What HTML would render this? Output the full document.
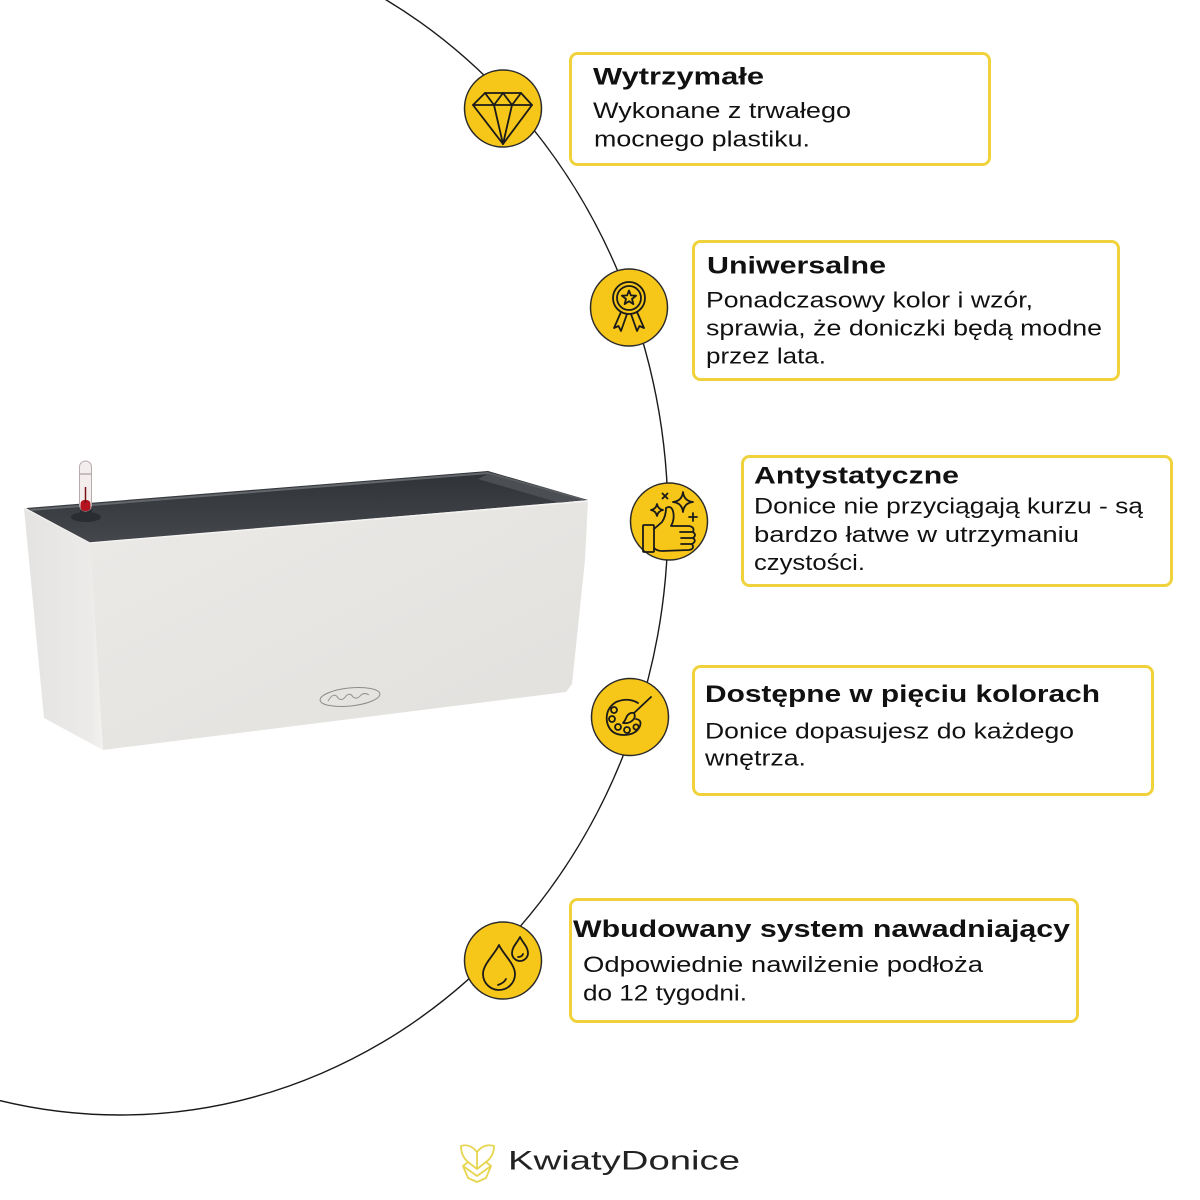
<!DOCTYPE html>
<html>
<head>
<meta charset="utf-8">
<style>
  html,body{margin:0;padding:0;background:#ffffff;}
  svg{display:block;}
  .t{font-family:"Liberation Sans","DejaVu Sans",sans-serif;font-weight:700;font-size:24px;fill:#111;}
  .b{font-family:"Liberation Sans","DejaVu Sans",sans-serif;font-weight:400;font-size:22px;fill:#111;}
  .ic{fill:none;stroke:#1a1a1a;stroke-width:1.8;stroke-linejoin:round;stroke-linecap:round;}
  .circ{fill:#f6c619;stroke:#2a2a2a;stroke-width:1.5;}
  .box{fill:#ffffff;stroke:#efd23c;stroke-width:3;}
</style>
</head>
<body>
<svg width="1200" height="1200" viewBox="0 0 1200 1200" xmlns="http://www.w3.org/2000/svg">
  <defs>
    <linearGradient id="front" x1="0" y1="0" x2="1" y2="1">
      <stop offset="0" stop-color="#eceae7"/>
      <stop offset="1" stop-color="#e2e0dd"/>
    </linearGradient>
    <linearGradient id="side" x1="0" y1="0" x2="1" y2="0">
      <stop offset="0" stop-color="#e4e3e1"/>
      <stop offset="0.85" stop-color="#ecebe9"/>
      <stop offset="1" stop-color="#f3f2f0"/>
    </linearGradient>
    <linearGradient id="inner" x1="0" y1="0" x2="0" y2="1">
      <stop offset="0" stop-color="#2f3236"/>
      <stop offset="1" stop-color="#44474c"/>
    </linearGradient>
  </defs>

  <!-- big arc (ellipse, only right part visible) -->
  <ellipse cx="120" cy="520" rx="548" ry="595" fill="none" stroke="#1a1a1a" stroke-width="1.4"/>

  <!-- pot -->
  <g>
    <polygon points="24,508 90,543 103,750 44,718" fill="url(#side)"/>
    <polygon points="90,543 588,500 585,560 572,684 566,692 103,750" fill="url(#front)"/>
    <polygon points="26,508 488,471 588,500 90,543" fill="url(#inner)"/>
    <line x1="30" y1="510" x2="488" y2="473" stroke="#63666b" stroke-width="2"/>
    <line x1="488" y1="473" x2="584" y2="500" stroke="#5a5d62" stroke-width="2"/>
    <polygon points="488,474 582,500 560,503 478,479" fill="#4b4e53"/>
    <line x1="90" y1="543" x2="588" y2="501" stroke="#f4f3f1" stroke-width="1.5"/>
    <line x1="24" y1="508" x2="90" y2="543" stroke="#f2f1ef" stroke-width="1.2"/>
    <!-- water indicator -->
    <ellipse cx="86" cy="517" rx="15" ry="5" fill="#2a2d31"/>
    <rect x="80" y="510" width="12" height="8" fill="#2a2d31"/>
    <rect x="79.5" y="461" width="12" height="50" rx="6" fill="#f3eded" stroke="#b6aaac" stroke-width="1"/>
    <rect x="80.5" y="500" width="10" height="11" rx="4" fill="#b3141f"/>
    <line x1="85.5" y1="487" x2="85.5" y2="503" stroke="#7a0f15" stroke-width="1.5"/>
    <line x1="80" y1="474" x2="91" y2="474" stroke="#9a8e90" stroke-width="1"/>
    <!-- brand ellipse -->
    <ellipse cx="350" cy="697" rx="30" ry="9" transform="rotate(-6 350 697)" fill="none" stroke="#8d8c8a" stroke-width="1"/>
    <path d="M328,701 q6,-10 10,-3 q4,4 8,-2 q4,-4 7,1 q4,3 8,-2 q4,-3 8,0" fill="none" stroke="#8d8c8a" stroke-width="0.9"/>
  </g>

  <!-- boxes -->
  <rect class="box" x="570.5" y="53.5" width="419" height="111" rx="7"/>
  <rect class="box" x="693.5" y="241.5" width="425" height="138" rx="7"/>
  <rect class="box" x="742.5" y="456.5" width="429" height="129" rx="7"/>
  <rect class="box" x="693.5" y="666.5" width="459" height="128" rx="7"/>
  <rect class="box" x="570.5" y="899.5" width="507" height="122" rx="7"/>

  <!-- text -->
  <text class="t" x="593" y="84.5" textLength="171" lengthAdjust="spacingAndGlyphs">Wytrzymałe</text>
  <text class="b" x="593" y="118" textLength="258" lengthAdjust="spacingAndGlyphs">Wykonane z trwałego</text>
  <text class="b" x="594" y="146.5" textLength="216" lengthAdjust="spacingAndGlyphs">mocnego plastiku.</text>

  <text class="t" x="707" y="273.5" textLength="179" lengthAdjust="spacingAndGlyphs">Uniwersalne</text>
  <text class="b" x="706" y="307.5" textLength="327" lengthAdjust="spacingAndGlyphs">Ponadczasowy kolor i wzór,</text>
  <text class="b" x="706" y="335.5" textLength="396" lengthAdjust="spacingAndGlyphs">sprawia, że doniczki będą modne</text>
  <text class="b" x="706" y="363.5" textLength="120" lengthAdjust="spacingAndGlyphs">przez lata.</text>

  <text class="t" x="754" y="483.5" textLength="205" lengthAdjust="spacingAndGlyphs">Antystatyczne</text>
  <text class="b" x="754" y="513.5" textLength="389" lengthAdjust="spacingAndGlyphs">Donice nie przyciągają kurzu - są</text>
  <text class="b" x="754" y="542" textLength="325" lengthAdjust="spacingAndGlyphs">bardzo łatwe w utrzymaniu</text>
  <text class="b" x="754" y="570" textLength="111" lengthAdjust="spacingAndGlyphs">czystości.</text>

  <text class="t" x="705" y="702" textLength="395" lengthAdjust="spacingAndGlyphs">Dostępne w pięciu kolorach</text>
  <text class="b" x="705" y="738.5" textLength="369" lengthAdjust="spacingAndGlyphs">Donice dopasujesz do każdego</text>
  <text class="b" x="705" y="765.5" textLength="101" lengthAdjust="spacingAndGlyphs">wnętrza.</text>

  <text class="t" x="573" y="937" textLength="497" lengthAdjust="spacingAndGlyphs">Wbudowany system nawadniający</text>
  <text class="b" x="583" y="972" textLength="400" lengthAdjust="spacingAndGlyphs">Odpowiednie nawilżenie podłoża</text>
  <text class="b" x="583" y="1000.5" textLength="164" lengthAdjust="spacingAndGlyphs">do 12 tygodni.</text>

  <!-- icon 1: diamond -->
  <circle class="circ" cx="503" cy="108.5" r="38.5"/>
  <g class="ic" stroke-width="2">
    <polygon points="485,93 521,93 532,105 503,144 473,105"/>
    <line x1="473" y1="105" x2="532" y2="105"/>
    <polyline points="485,93 494,105 503,93 512,105 521,93"/>
    <line x1="494" y1="105" x2="503" y2="144"/>
    <line x1="512" y1="105" x2="503" y2="144"/>
  </g>

  <!-- icon 2: medal -->
  <circle class="circ" cx="629" cy="307.5" r="38.5"/>
  <g class="ic" stroke-width="1.6">
    <circle cx="629" cy="298" r="16"/>
    <circle cx="629" cy="298" r="12"/>
    <polygon points="629,290.5 630.9,295.4 636.1,295.7 632,299 633.4,304.1 629,301.2 624.6,304.1 626,299 621.9,295.7 627.1,295.4"/>
    <polyline points="621,312 614,328 618.5,326 621,331 627,314"/>
    <polyline points="637,312 644,328 639.5,326 637,331 631,314"/>
  </g>

  <!-- icon 3: thumbs up -->
  <circle class="circ" cx="669" cy="521.5" r="38.5"/>
  <g class="ic" stroke-width="1.8">
    <rect x="643" y="525" width="11" height="27" rx="1"/>
    <path d="M654,529 L662,522 Q666,516 666,508 Q671,505 673,511 Q675,519 671,526 L689,526 Q695,527 693,532 Q697,535 693,538 Q697,541 692,544 Q695,549 689,550 L662,551 Q657,551 654,548"/>
    <line x1="680" y1="532" x2="693" y2="532"/>
    <line x1="681" y1="538" x2="693" y2="538"/>
    <line x1="681" y1="544" x2="692" y2="544"/>
    <path d="M683,492 Q684,501 693,502 Q684,503 683,512 Q682,503 673,502 Q682,501 683,492Z"/>
    <path d="M657,504 Q658,509 663,510 Q658,511 657,516 Q656,511 651,510 Q656,509 657,504Z"/>
    <line x1="662.5" y1="493.5" x2="667.5" y2="498.5"/>
    <line x1="667.5" y1="493.5" x2="662.5" y2="498.5"/>
    <line x1="693" y1="513" x2="693" y2="521"/>
    <line x1="689" y1="517" x2="697" y2="517"/>
  </g>

  <!-- icon 4: palette -->
  <circle class="circ" cx="630" cy="717" r="38.5"/>
  <g class="ic" stroke-width="1.7">
    <path d="M638,703 Q628,697 616,702 Q605,709 607,722 Q610,735 624,735 Q636,735 640,726 Q642,720 636,719"/>
    <circle cx="614" cy="710" r="3"/>
    <circle cx="612" cy="719" r="3"/>
    <circle cx="618" cy="727" r="3"/>
    <circle cx="627" cy="730" r="3"/>
    <circle cx="636" cy="727" r="2.6"/>
    <line x1="651" y1="697" x2="634" y2="713"/>
    <path d="M634,713 Q630,712 627,716 Q625,721 623,723 Q629,724 633,720 Q636,717 634,713Z"/>
  </g>

  <!-- icon 5: drops -->
  <circle class="circ" cx="503" cy="960.5" r="38.5"/>
  <g class="ic" stroke-width="1.8">
    <path d="M499,945 C495,954 483,964 483,974 A16,16 0 0,0 515,974 C515,964 503,954 499,945 Z"/>
    <path d="M498,985 Q504,983 506,979"/>
    <path d="M520,937 C517,943 512,947 512,953 A8,8 0 0,0 528,953 C528,947 523,943 520,937Z"/>
    <path d="M518,957 Q522,957 523,954"/>
  </g>

  <!-- logo -->
  <g fill="none" stroke="#e6d54f" stroke-width="1.8" stroke-linejoin="round">
    <path d="M461,1146 Q470,1143 477,1152 Q484,1143 494,1146 Q494,1156 486,1162 L491,1166 L486,1178 L477,1182 L468,1178 L463,1166 L468,1162 Q461,1156 461,1146 Z"/>
    <path d="M468,1162 L477,1169 L486,1162"/>
    <path d="M477,1152 L477,1169"/>
    <path d="M463,1166 L477,1176 L491,1166"/>
  </g>
  <text x="508" y="1169.5" textLength="232" lengthAdjust="spacingAndGlyphs" style="font-family:'Liberation Sans','DejaVu Sans',sans-serif;font-size:27px;font-weight:400;fill:#222;">KwiatyDonice</text>
</svg>
</body>
</html>
